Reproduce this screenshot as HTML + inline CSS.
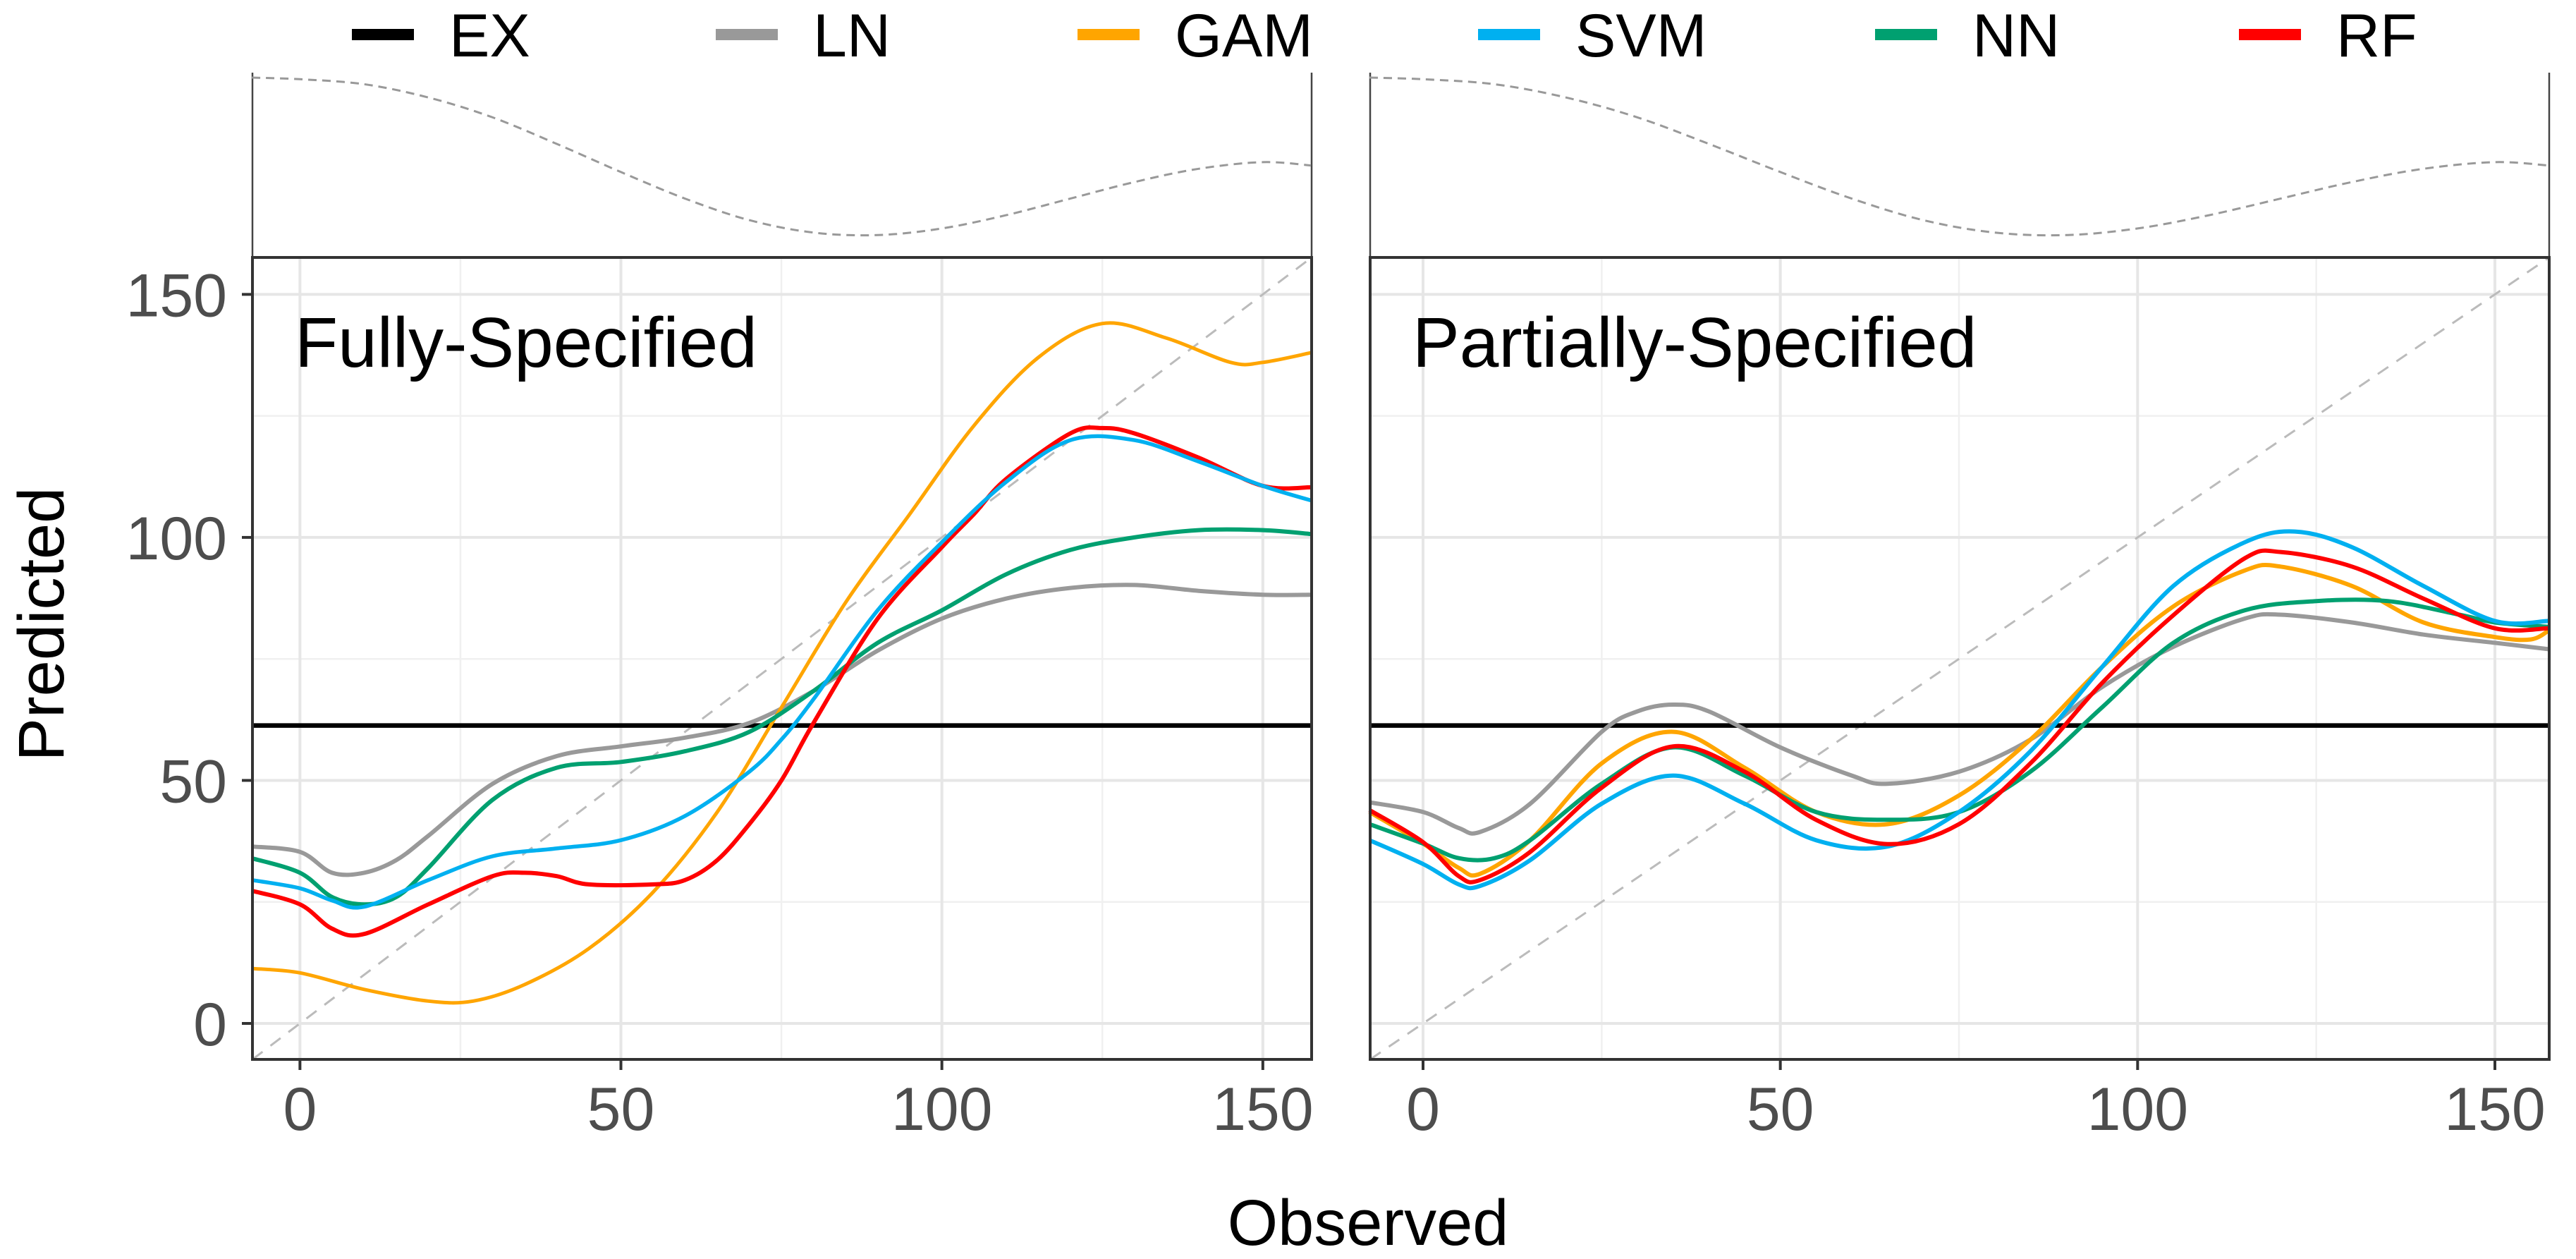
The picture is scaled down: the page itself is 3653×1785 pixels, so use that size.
<!DOCTYPE html>
<html><head><meta charset="utf-8">
<style>
html,body{margin:0;padding:0;background:#fff;}
svg{display:block;font-family:"Liberation Sans",sans-serif;}
</style></head>
<body>
<svg id="chart" width="3653" height="1785" viewBox="0 0 3653 1785" xmlns="http://www.w3.org/2000/svg">
<g id="legend"></g>
<g id="panels"></g>
<text x="0" y="0" transform="translate(90,885) rotate(-90)" text-anchor="middle" font-size="92" fill="#000" font-family="Liberation Sans, sans-serif">Predicted</text>
<text x="1940" y="1765" text-anchor="middle" font-size="92" fill="#000">Observed</text>
</svg>
<script>
const seriesNames = ["EX","LN","GAM","SVM","NN","RF"];
const seriesColors = ["#000000","#999999","#FFA500","#00B0F0","#00A070","#FF0000"];
const legendLineX = [499,1015,1528,2096,2659,3175];
const densX = [-7.5,0,10,20,30,40,50,60,70,80,90,100,110,120,130,140,150,157.5];
const densY = [1,0.99,0.96,0.88,0.76,0.6,0.43,0.27,0.14,0.065,0.05,0.09,0.17,0.27,0.37,0.45,0.49,0.47];
const exValue = 61.3;
// Fully-Specified panel
const fLN_x = [-7.5,0,5,10,15,20,30,40,50,60,70,80,90,100,110,120,130,140,150,157.5];
const fLN_y = [36.4,35.3,31,31,33.6,38.6,49.3,55,57,58.8,61.8,68.4,76.7,83.3,87.4,89.6,90.2,89,88.2,88.2];
const fGAM_x = [-7.5,0,10,20,27,35,45,55,65,75,85,95,105,115,125,135,145,150,157.5];
const fGAM_y = [11.3,10.4,7,4.6,4.6,8,15.4,27,43.5,65,86.6,104.8,123,137,144,141,136,136,138];
const fSVM_x = [-7.5,0,5,10,20,30,40,50,60,70,75,80,90,100,110,120,130,140,150,157.5];
const fSVM_y = [29.5,27.8,25.3,24,29.5,34.4,36,37.7,42.7,51.8,58.4,66.7,85,99,111.4,120,120,115.6,110.6,107.6];
const fNN_x = [-7.5,0,5,10,15,20,30,40,50,60,70,80,90,100,110,120,130,140,150,157.5];
const fNN_y = [34,31,26,24.5,26,32,46,52.6,53.8,56,60,68.4,78.3,85,92.4,97.4,100,101.5,101.5,100.7];
const fRF_x = [-7.5,0,5,10,20,30,35,40,45,55,60,65,70,75,80,90,100,105,110,120,125,130,140,150,157.5];
const fRF_y = [27.3,24.5,19.5,18.4,24.5,30.3,31,30.3,28.6,28.6,29.5,33.6,41,50,61.8,83.3,98,104.8,112,121.4,122.5,121.4,116.4,110.6,110.3];
// Partially-Specified panel
const pLN_x = [-7.5,0,5,8,15,25,30,35,40,50,60,65,75,85,95,105,115,120,130,140,150,157.5];
const pLN_y = [45.5,43.5,40.2,39.4,45.2,60,64.2,65.6,64.2,56.8,51,49.3,51.8,58.4,69.2,77.5,83.3,84.1,82.5,80,78.3,77];
const pGAM_x = [-7.5,0,5,8,15,25,35,45,55,65,75,85,95,105,115,120,130,140,150,155,157.5];
const pGAM_y = [43.5,37,32,30.8,37.7,53.5,60,52.6,43.5,41,46.9,58.4,73.3,85.8,93.2,94,90,82.5,79.5,79,80.8];
const pSVM_x = [-7.5,0,5,8,15,25,35,45,55,65,75,85,95,105,115,122,130,140,150,157.5];
const pSVM_y = [37.7,32.8,28.6,28.3,33.6,45.2,51,45.2,37.7,36.4,43.5,56,73.3,90,99,101.2,98,90,82.8,82.8];
const pNN_x = [-7.5,0,5,10,15,25,35,45,55,65,75,85,95,105,115,125,135,145,150,157.5];
const pNN_y = [41,37,34,34,37.7,49.3,56.8,51,43.5,41.9,43.5,51.8,65,78.3,85,86.9,86.9,84.1,82.5,81.6];
const pRF_x = [-7.5,0,5,8,15,25,35,45,55,65,75,85,95,105,115,120,130,140,150,157.5];
const pRF_y = [43.9,37.3,30.3,29.5,35.3,48.5,57,51.8,41.9,36.9,41,53.5,70,84,95.7,97,94,87.4,81.3,81.3];
const tickVals = [0,50,100,150];
const tickLabels = ["0","50","100","150"];
const minorVals = [25,75,125];

const NS = "http://www.w3.org/2000/svg";
function mk(tag, attrs, parent){ const e=document.createElementNS(NS,tag); for(const k in attrs) e.setAttribute(k,attrs[k]); parent.appendChild(e); return e; }
function smoothPath(pts){
  let d = "M"+pts[0][0].toFixed(1)+","+pts[0][1].toFixed(1);
  for(let i=0;i<pts.length-1;i++){
    const p0=pts[Math.max(0,i-1)], p1=pts[i], p2=pts[i+1], p3=pts[Math.min(pts.length-1,i+2)];
    const c1x=p1[0]+(p2[0]-p0[0])/6, c1y=p1[1]+(p2[1]-p0[1])/6;
    const c2x=p2[0]-(p3[0]-p1[0])/6, c2y=p2[1]-(p3[1]-p1[1])/6;
    d+=" C"+c1x.toFixed(1)+","+c1y.toFixed(1)+" "+c2x.toFixed(1)+","+c2y.toFixed(1)+" "+p2[0].toFixed(1)+","+p2[1].toFixed(1);
  }
  return d;
}

// legend
const lg = document.getElementById("legend");
seriesNames.forEach((n,i)=>{
  const g = mk("g",{},lg);
  
  
  const l = mk("line",{x1:legendLineX[i],x2:legendLineX[i]+88,y1:49,y2:49,stroke:seriesColors[i],"stroke-width":16},g);
  
  
  const t = mk("text",{x:legendLineX[i]+138,y:80,"font-size":86,fill:"#000"},g);
  
  
  t.textContent = n;
});

const DMIN=-7.4, DMAX=157.6;
const panelsG = document.getElementById("panels");
function drawPanel(cfg){
  const {left,right,title,series,name,showY} = cfg;
  const top=365,bottom=1502;
  const sx = v => left + (v-DMIN)/(DMAX-DMIN)*(right-left);
  const sy = v => bottom - (v-DMIN)/(DMAX-DMIN)*(bottom-top);
  const g = mk("g",{},panelsG);
  
  
  const sl1 = mk("line",{x1:left,x2:left,y1:103,y2:top,stroke:"#444","stroke-width":2.5},g);
  
  
  const sl2 = mk("line",{x1:right,x2:right,y1:103,y2:top,stroke:"#444","stroke-width":2.5},g);
  
  
  const dpts = densX.map((x,i)=>[sx(x), 345 - densY[i]*235]);
  const dp = mk("path",{d:smoothPath(dpts),fill:"none",stroke:"#999","stroke-width":3,"stroke-dasharray":"12 8"},g);
  
  
  minorVals.forEach(v=>{
    const a=mk("line",{x1:sx(v),x2:sx(v),y1:top,y2:bottom,stroke:"#f0f0f0","stroke-width":2.5},g);
    
    
    const b=mk("line",{x1:left,x2:right,y1:sy(v),y2:sy(v),stroke:"#f0f0f0","stroke-width":2.5},g);
    
    
  });
  tickVals.forEach((v,i)=>{
    const a=mk("line",{x1:sx(v),x2:sx(v),y1:top,y2:bottom,stroke:"#e6e6e6","stroke-width":4},g);
    
    
    const b=mk("line",{x1:left,x2:right,y1:sy(v),y2:sy(v),stroke:"#e6e6e6","stroke-width":4},g);
    
    
    const tk=mk("line",{x1:sx(v),x2:sx(v),y1:bottom,y2:bottom+15,stroke:"#333","stroke-width":4},g);
    
    
    const tl=mk("text",{x:sx(v),y:1602,"text-anchor":"middle","font-size":86,fill:"#4d4d4d"},g);
    
    
    tl.textContent=tickLabels[i];
    if(showY){
      const yt=mk("line",{x1:left-15,x2:left,y1:sy(v),y2:sy(v),stroke:"#333","stroke-width":4},g);
      
      
      const yl=mk("text",{x:left-36,y:sy(v)+31,"text-anchor":"end","font-size":86,fill:"#4d4d4d"},g);
      
      
      yl.textContent=tickLabels[i];
    }
  });
  const id=mk("line",{x1:sx(DMIN),y1:sy(DMIN),x2:sx(DMAX),y2:sy(DMAX),stroke:"#bbb","stroke-width":3,"stroke-dasharray":"18 14"},g);
  
  
  const ex=mk("line",{x1:left,x2:right,y1:sy(exValue),y2:sy(exValue),stroke:"#000","stroke-width":6.5},g);
  
  
  series.forEach(s=>{
    const pts = s.x.map((x,i)=>[sx(x),sy(s.y[i])]);
    const p=mk("path",{d:smoothPath(pts),fill:"none",stroke:s.color,"stroke-width":s.w,"stroke-linejoin":"round"},g);
    
    
  });
  const bd=mk("rect",{x:left,y:top,width:right-left,height:bottom-top,fill:"none",stroke:"#333","stroke-width":4},g);
  
  
  const tt=mk("text",{x:left+60,y:520,"font-size":100,fill:"#000"},g);
  
  
  tt.textContent=title;
}
drawPanel({left:358,right:1860,title:"Fully-Specified",name:"panel-fully-specified",showY:true,series:[
  {name:"ln",x:fLN_x,y:fLN_y,color:seriesColors[1],w:6},
  {name:"gam",x:fGAM_x,y:fGAM_y,color:seriesColors[2],w:5},
  {name:"nn",x:fNN_x,y:fNN_y,color:seriesColors[4],w:6},
  {name:"rf",x:fRF_x,y:fRF_y,color:seriesColors[5],w:6},
  {name:"svm",x:fSVM_x,y:fSVM_y,color:seriesColors[3],w:5.5}
]});
drawPanel({left:1943,right:3615,title:"Partially-Specified",name:"panel-partially-specified",showY:false,series:[
  {name:"ln",x:pLN_x,y:pLN_y,color:seriesColors[1],w:6},
  {name:"gam",x:pGAM_x,y:pGAM_y,color:seriesColors[2],w:6},
  {name:"nn",x:pNN_x,y:pNN_y,color:seriesColors[4],w:6},
  {name:"svm",x:pSVM_x,y:pSVM_y,color:seriesColors[3],w:6},
  {name:"rf",x:pRF_x,y:pRF_y,color:seriesColors[5],w:6}
]});
</script>
</body></html>
